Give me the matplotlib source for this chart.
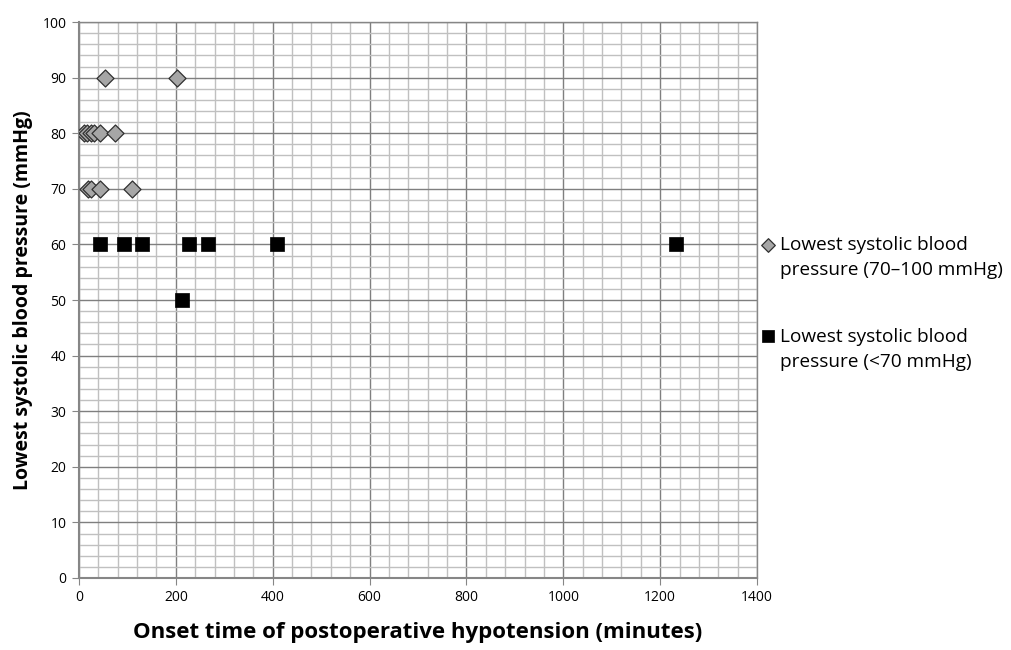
import numpy as np
import matplotlib.pyplot as plt
from matplotlib.ticker import MultipleLocator

plt.rcParams['font.family'] = ['Open Sans', 'DejaVu Sans']

# Series 1: lowest SBP 70-100 mmHg
mild_time = [54, 202, 10, 17, 24, 31, 43, 74, 19, 25, 43, 109]
mild_sbp = [90, 90, 80, 80, 80, 80, 80, 80, 70, 70, 70, 70]

# Series 2: lowest SBP < 70 mmHg
severe_time = [43, 94, 130, 227, 267, 408, 1233, 212]
severe_sbp = [60, 60, 60, 60, 60, 60, 60, 50]

fig = plt.figure(figsize=(10.11, 6.5), dpi=100)
ax = fig.add_axes([0.0781, 0.1108, 0.6707, 0.8553])

ax.set_xlim(0, 1400)
ax.set_ylim(0, 100)
ax.xaxis.set_major_locator(MultipleLocator(200))
ax.xaxis.set_minor_locator(MultipleLocator(40))
ax.yaxis.set_major_locator(MultipleLocator(10))
ax.yaxis.set_minor_locator(MultipleLocator(2))

ax.grid(which='minor', color='#c0c0c0', linewidth=1.0, zorder=0)
ax.grid(which='major', color='#7f7f7f', linewidth=1.0, zorder=0)
ax.set_axisbelow(True)

ax.scatter(mild_time, mild_sbp, marker='D', s=75, facecolor='#a6a6a6',
           edgecolor='#303030', linewidth=0.9, zorder=3,
           label='Lowest systolic blood\npressure (70\u2013100 mmHg)')
ax.scatter(severe_time, severe_sbp, marker='s', s=110, facecolor='black',
           edgecolor='black', linewidth=0.5, zorder=3,
           label='Lowest systolic blood\npressure (<70 mmHg)')

for s in ['left', 'bottom']:
    ax.spines[s].set_color('#868686')
    ax.spines[s].set_linewidth(1.5)
for s in ['top', 'right']:
    ax.spines[s].set_color('#868686')
    ax.spines[s].set_linewidth(1.0)

ax.tick_params(which='major', direction='out', length=5, color='#868686',
               labelsize=10, pad=4)
ax.tick_params(which='minor', length=0)

ax.set_xlabel('Onset time of postoperative hypotension (minutes)',
              fontsize=16, fontweight='bold', labelpad=12)
ax.set_ylabel('Lowest systolic blood pressure (mmHg)',
              fontsize=14, fontweight='bold', labelpad=7)

leg = ax.legend(loc='upper left', bbox_to_anchor=(0.997, 0.628), frameon=False,
                fontsize=13.7, handletextpad=0.3, labelspacing=2.55,
                borderaxespad=0.0, handlelength=0.6, markerscale=0.8)
for t in leg.get_texts():
    t.set_linespacing(1.5)
# put the marker next to the first text line, not the middle of the entry
for col in leg._legend_handle_box.get_children():
    for row in col.get_children():
        row.align = 'top'

fig.savefig('out.png', dpi=100)
